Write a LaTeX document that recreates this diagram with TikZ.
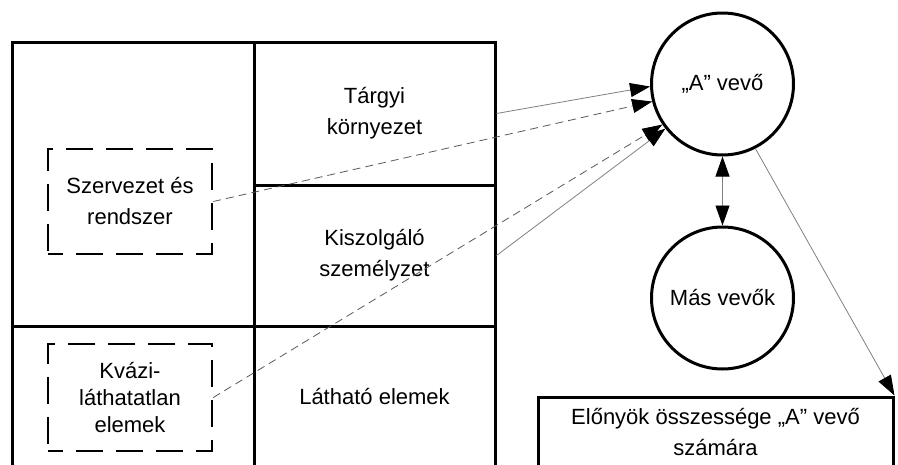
\documentclass[tikz,border=0pt]{standalone}
\usepackage{fontspec}
\setmainfont{Liberation Sans}
\usetikzlibrary{arrows.meta}
\begin{document}
\begin{tikzpicture}[x=1pt,y=-1pt,
  every node/.style={font=\fontsize{22}{31}\selectfont, align=center, inner sep=0pt},
  cell/.style={draw=black, line width=3pt, rectangle},
  dbox/.style={draw=black, line width=2.5pt, rectangle, dash pattern=on 27pt off 13pt, dash phase=12pt},
  circ/.style={draw=black, line width=3pt, circle, minimum size=142pt},
  thinline/.style={draw=black!50, line width=0.8pt},
  dline/.style={draw=black!65, line width=0.8pt, dash pattern=on 8pt off 5pt},
  tip/.style={-{Triangle[length=20pt,width=14pt,fill=black,color=black]}},
  dtip/.style={{Triangle[length=20pt,width=14pt,fill=black,color=black]}-{Triangle[length=20pt,width=14pt,fill=black,color=black]}}
]
\path[use as bounding box] (0,0) rectangle (898,464);
\clip (0,0) rectangle (898,464);

\node[cell, minimum width=242pt, minimum height=284pt] (cLT) at (133,184) {};
\node[cell, minimum width=241pt, minimum height=143pt] (cT) at (374.5,113.5) {Tárgyi\\környezet};
\node[cell, minimum width=241pt, minimum height=141pt] (cK) at (374.5,255.5) {Kiszolgáló\\személyzet};
\node[cell, minimum width=242pt, minimum height=142pt] (cLB) at (133,397) {};
\node[cell, minimum width=241pt, minimum height=142pt] (cV) at (374.5,397) {Látható elemek};

\node[dbox, minimum width=164pt, minimum height=105pt] (S) at (130,201.5) {Szervezet és\\rendszer};
\node[dbox, minimum width=164pt, minimum height=107pt, font=\fontsize{22}{27}\selectfont] (Q) at (130,397.5) {Kvázi-\\láthatatlan\\elemek};

\node[circ] (A) at (722.5,84) {„A” vevő};
\node[circ] (M) at (722.5,298) {Más vevők};

\node[cell, minimum width=355pt, minimum height=70pt] (E) at (715.5,432) {Előnyök összessége „A” vevő\\számára};

\draw[thinline, tip] (cT.east) -- (A.182);
\draw[dline, tip] (S.east) -- (A.194);
\draw[dline, tip] (Q.east) -- (A.214);
\draw[thinline, tip] (cK.east) -- (A.218);
\draw[thinline, dtip] (A.south) -- (M.north);
\draw[thinline, tip] (A.297) -- (E.north east);
\end{tikzpicture}
\end{document}
